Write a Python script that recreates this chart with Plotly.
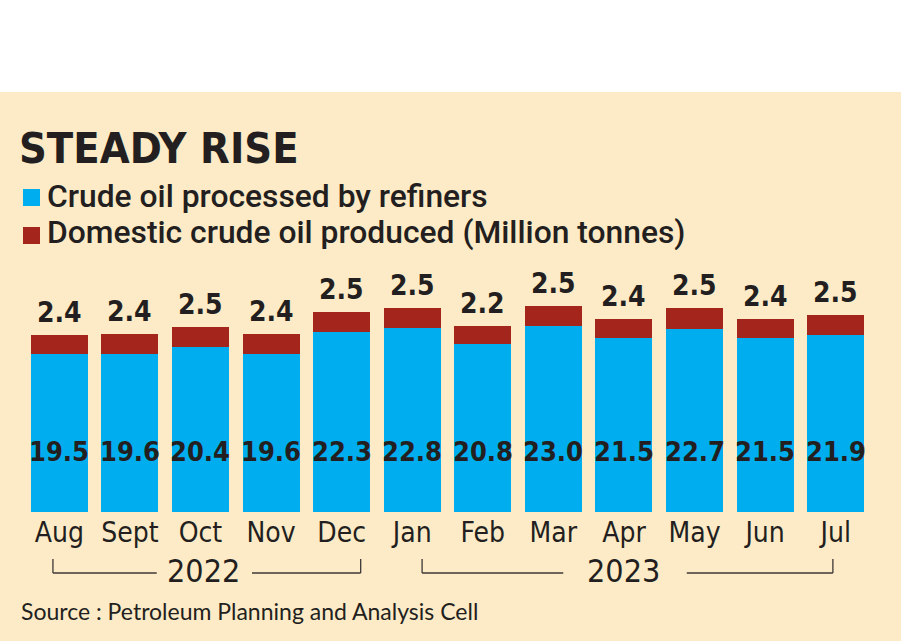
import plotly.graph_objects as go

# ---------------- data ----------------
months = ["Aug", "Sept", "Oct", "Nov", "Dec", "Jan", "Feb", "Mar", "Apr", "May", "Jun", "Jul"]
crude_processed = [19.5, 19.6, 20.4, 19.6, 22.3, 22.8, 20.8, 23.0, 21.5, 22.7, 21.5, 21.9]
domestic_produced = [2.4, 2.4, 2.5, 2.4, 2.5, 2.5, 2.2, 2.5, 2.4, 2.5, 2.4, 2.5]
years = ["2022", "2023"]
series_names = ["Crude oil processed by refiners", "Domestic crude oil produced (Million tonnes)"]
title_text = "STEADY RISE"
source_text = "Source : Petroleum Planning and Analysis Cell"

# ---------------- style ----------------
W, H = 901, 641
ML, MR, MT, MB = 24, 30, 280, 129
PW = W - ML - MR
PH = H - MT - MB
PX_PER_UNIT = 8.08
BG = "#FDEBC7"
BLUE = "#00AEEF"
RED = "#A3251C"
INK = "#231F20"
LINE = "#3C3836"
NARROW = "DejaVu Sans Condensed, Roboto, sans-serif"
LEGEND_FONT = "Roboto, DejaVu Sans Condensed, sans-serif"
REG = "Lato, Open Sans, sans-serif"


def px(x):
    return (x - ML) / PW


def py(y):
    return (H - MB - y) / PH


fig = go.Figure()
fig.add_trace(go.Bar(x=months, y=crude_processed, name=series_names[0],
                     marker=dict(color=BLUE, line=dict(width=0)), hoverinfo="x+y"))
fig.add_trace(go.Bar(x=months, y=domestic_produced, name=series_names[1],
                     marker=dict(color=RED, line=dict(width=0)), hoverinfo="x+y"))

annotations = []
shapes = []

# value labels
inner_label_y = 7.55
for m, c, d in zip(months, crude_processed, domestic_produced):
    annotations.append(dict(x=m, y=c + d, xref="x", yref="y", text=f"{d:.1f}",
                            showarrow=False, yanchor="bottom", yshift=4,
                            font=dict(family=NARROW, size=28, color=INK, weight="bold")))
    annotations.append(dict(x=m, y=inner_label_y, xref="x", yref="y", text=f"{c:.1f}",
                            showarrow=False, yanchor="middle",
                            font=dict(family=NARROW, size=27, color=INK, weight="bold")))

# title
annotations.append(dict(x=px(17), y=py(148), xref="paper", yref="paper", text=title_text,
                        showarrow=False, xanchor="left", yanchor="middle",
                        font=dict(family=NARROW, size=43, color=INK, weight="bold")))

# legend (manual)
for name, col, cy, sq_top in [(series_names[0], BLUE, 196, 189),
                              (series_names[1], RED, 232, 227)]:
    shapes.append(dict(type="rect", xref="paper", yref="paper",
                       x0=px(23), x1=px(40), y0=py(sq_top + 17), y1=py(sq_top),
                       fillcolor=col, line=dict(width=0)))
    annotations.append(dict(x=px(45), y=py(cy), xref="paper", yref="paper", text=name,
                            showarrow=False, xanchor="left", yanchor="middle",
                            font=dict(family=LEGEND_FONT, size=31.8, color=INK, weight=500)))

# year brackets
bracket_y = py(573)
bracket_top = py(559)
year_specs = [
    (years[0], 2.05, -0.09, 1.38, 2.73, 4.27),
    (years[1], 8.0, 5.14, 7.14, 8.89, 10.96),
]
for label, cx, l0, l1, r0, r1 in year_specs:
    annotations.append(dict(x=cx, y=py(571), xref="x", yref="paper", text=label,
                            showarrow=False, yanchor="middle",
                            font=dict(family=NARROW, size=32, color=INK)))
    for x0, x1, y0, y1 in [(l0, l0, bracket_top, bracket_y), (l0, l1, bracket_y, bracket_y),
                           (r0, r1, bracket_y, bracket_y), (r1, r1, bracket_y, bracket_top)]:
        shapes.append(dict(type="line", xref="x", yref="paper", x0=x0, x1=x1,
                           y0=y0, y1=y1, line=dict(color=LINE, width=1.3)))

# source
annotations.append(dict(x=px(19), y=py(611), xref="paper", yref="paper", text=source_text,
                        showarrow=False, xanchor="left", yanchor="middle",
                        font=dict(family=REG, size=23, color=INK)))

# white top band
shapes.append(dict(type="rect", xref="paper", yref="paper", x0=px(-5), x1=px(W + 5),
                   y0=py(92), y1=py(-5), fillcolor="white", line=dict(width=0), layer="below"))

fig.update_layout(
    width=W, height=H,
    margin=dict(l=ML, r=MR, t=MT, b=MB, pad=0),
    paper_bgcolor=BG, plot_bgcolor="rgba(0,0,0,0)",
    barmode="stack", bargap=0.192,
    showlegend=False,
    annotations=annotations, shapes=shapes,
    xaxis=dict(range=[-0.5, 11.5], showgrid=False, zeroline=False, showline=False,
               ticks="", ticklabelstandoff=1,
               tickfont=dict(family=NARROW, size=28, color=INK), fixedrange=True),
    yaxis=dict(range=[0, PH / PX_PER_UNIT], visible=False, fixedrange=True),
)

fig.write_html("out.html", config={"displayModeBar": False})
